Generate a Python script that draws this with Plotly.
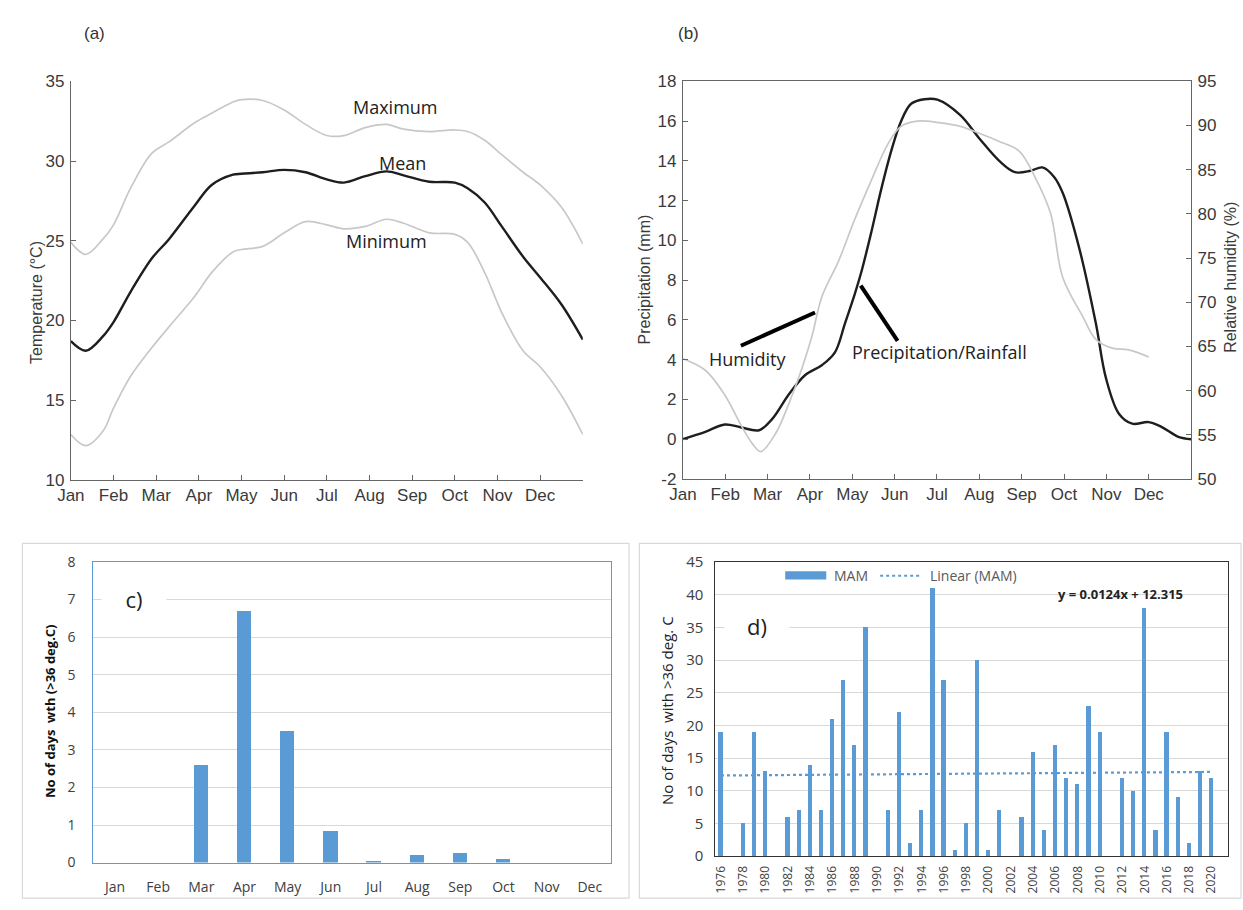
import plotly.graph_objects as go

W, H = 1243, 910

MONTHS = ["Jan", "Feb", "Mar", "Apr", "May", "Jun", "Jul", "Aug", "Sep", "Oct", "Nov", "Dec"]

# ---- panel (a): temperature (x = month position, 0 = Jan)
TEMP_MONTH_POS = [0, 0.35, 0.75, 1.0, 1.4, 1.9, 2.3, 2.9, 3.3, 3.8, 4.0, 4.5, 5.0, 5.5, 6.0, 6.4,
                  6.9, 7.4, 7.8, 8.4, 9.0, 9.3, 9.7, 10.1, 10.6, 11.0, 11.5, 12.0]
TEMP_MEAN = [18.7, 18.1, 19.0, 19.9, 21.8, 23.9, 25.1, 27.2, 28.5, 29.15, 29.2, 29.3, 29.45, 29.3,
             28.85, 28.65, 29.05, 29.35, 29.1, 28.7, 28.65, 28.3, 27.4, 25.9, 24.0, 22.7, 21.0, 18.8]
TEMP_MAX = [24.9, 24.15, 25.1, 26.0, 28.3, 30.5, 31.2, 32.4, 33.0, 33.7, 33.85, 33.8, 33.2, 32.3,
            31.6, 31.6, 32.1, 32.3, 32.0, 31.85, 31.95, 31.85, 31.3, 30.4, 29.3, 28.5, 27.1, 24.8]
TEMP_MIN = [12.85, 12.15, 13.05, 14.5, 16.5, 18.3, 19.6, 21.5, 23.0, 24.3, 24.45, 24.65, 25.5, 26.2,
            26.0, 25.75, 25.9, 26.35, 26.1, 25.5, 25.4, 24.9, 23.0, 20.5, 18.1, 17.1, 15.3, 12.85]

# ---- panel (b): precipitation and humidity
PRECIP_MONTH_POS = [0, 0.53, 0.99, 1.36, 1.80, 2.11, 2.5, 2.89, 3.28, 3.59, 3.83, 4.06, 4.22, 4.45,
                    4.68, 4.92, 5.15, 5.39, 5.70, 6.01, 6.55, 7.01, 7.47, 7.84, 8.21, 8.49, 8.77,
                    8.97, 9.36, 9.75, 9.99, 10.3, 10.61, 11.0, 11.31, 11.7, 12.0]
PRECIP_MM = [0.0, 0.37, 0.74, 0.6, 0.45, 1.02, 2.25, 3.23, 3.72, 4.37, 5.84, 7.31, 8.46, 10.42,
             12.54, 14.5, 15.98, 16.87, 17.1, 17.08, 16.3, 15.1, 14.0, 13.43, 13.5, 13.67, 13.18,
             12.38, 9.6, 5.84, 3.07, 1.27, 0.78, 0.86, 0.61, 0.12, 0.0]
HUM_MONTH_POS = [0, 0.53, 0.99, 1.36, 1.64, 1.84, 2.19, 2.5, 2.81, 3.05, 3.28, 3.67, 4.06, 4.45,
                 4.84, 5.15, 5.54, 6.09, 6.55, 7.01, 7.47, 7.94, 8.31, 8.68, 8.97, 9.44, 9.75,
                 10.14, 10.53, 11.0]
HUMIDITY = [63.6, 62.3, 59.5, 56.2, 54.0, 53.1, 55.15, 58.5, 62.5, 66.2, 70.6, 74.6, 79.4, 83.8,
            87.9, 89.9, 90.5, 90.3, 89.9, 89.1, 88.2, 87.1, 84.2, 80.1, 72.8, 68.4, 65.8,
            64.8, 64.6, 63.8]
PRECIP_TICKS = [-2, 0, 2, 4, 6, 8, 10, 12, 14, 16, 18]

# ---- panel (c): monthly number of days > 36 C
HOT_DAYS_MONTHLY = [0, 0, 2.6, 6.7, 3.5, 0.85, 0.05, 0.2, 0.25, 0.1, 0, 0]

# ---- panel (d): MAM hot days per year
YEARS = list(range(1976, 2021))
MAM_DAYS = [19, 0, 5, 19, 13, 0, 6, 7, 14, 7, 21, 27, 17, 35, 0, 7, 22, 2, 7, 41, 27, 1, 5, 30,
            1, 7, 0, 6, 16, 4, 17, 12, 11, 23, 19, 0, 12, 10, 38, 4, 19, 9, 2, 13, 12]
TREND_SLOPE = 0.0124
TREND_INTERCEPT = 12.315

trend_x = [YEARS[0], YEARS[-1]]
trend_y = [TREND_SLOPE * 1 + TREND_INTERCEPT, TREND_SLOPE * len(YEARS) + TREND_INTERCEPT]


def px(x):
    return x / W


def py(y):
    return 1 - y / H


BLUE = "#5B9BD5"
GREY_LINE = "#c8c8c8"
DARK = "#1e1e1e"
SANS = "Liberation Sans, Arial, sans-serif"
HUM_FONT = "Open Sans, sans-serif"

fig = go.Figure()

# panel a
fig.add_trace(go.Scatter(x=TEMP_MONTH_POS, y=TEMP_MAX, mode="lines", line=dict(color=GREY_LINE, width=1.7, shape="spline"),
                         xaxis="x", yaxis="y", showlegend=False, name="Maximum"))
fig.add_trace(go.Scatter(x=TEMP_MONTH_POS, y=TEMP_MIN, mode="lines", line=dict(color=GREY_LINE, width=1.7, shape="spline"),
                         xaxis="x", yaxis="y", showlegend=False, name="Minimum"))
fig.add_trace(go.Scatter(x=TEMP_MONTH_POS, y=TEMP_MEAN, mode="lines", line=dict(color=DARK, width=2.4, shape="spline"),
                         xaxis="x", yaxis="y", showlegend=False, name="Mean"))

# panel b
fig.add_trace(go.Scatter(x=HUM_MONTH_POS, y=HUMIDITY, mode="lines", line=dict(color=GREY_LINE, width=1.7, shape="spline"),
                         xaxis="x2", yaxis="y3", showlegend=False, name="Humidity"))
fig.add_trace(go.Scatter(x=PRECIP_MONTH_POS, y=PRECIP_MM, mode="lines", line=dict(color=DARK, width=2.4, shape="spline"),
                         xaxis="x2", yaxis="y2", showlegend=False, name="Precipitation"))

# panel c
fig.add_trace(go.Bar(x=MONTHS, y=HOT_DAYS_MONTHLY, marker=dict(color=BLUE, line=dict(width=0)), width=0.33,
                     xaxis="x3", yaxis="y4", showlegend=False, name="days"))

# panel d
fig.add_trace(go.Bar(x=YEARS, y=MAM_DAYS, marker=dict(color=BLUE, line=dict(width=0)), width=0.38,
                     xaxis="x4", yaxis="y5", showlegend=False, name="MAM"))
fig.add_trace(go.Scatter(x=trend_x, y=trend_y, mode="lines", line=dict(color=BLUE, width=2.2, dash="dot"),
                         xaxis="x4", yaxis="y5", showlegend=False, name="Linear (MAM)"))

tick_a = dict(family=SANS, size=17, color="#3a3a3a")
axis_line = "#666"

fig.update_layout(
    width=W, height=H, autosize=False,
    margin=dict(l=0, r=0, t=0, b=0),
    paper_bgcolor="white", plot_bgcolor="rgba(0,0,0,0)",
    showlegend=False,
    bargap=0,
    xaxis=dict(domain=[px(57.5), px(575.3)], anchor="y", range=[0, 12], tickvals=list(range(12)), ticktext=MONTHS,
               ticks="inside", ticklen=5, tickcolor=axis_line, showline=True, linecolor=axis_line, linewidth=1.2,
               showgrid=False, zeroline=False, tickfont=tick_a, ticklabelstandoff=0),
    yaxis=dict(domain=[py(480), py(72)], anchor="x", range=[10, 35], dtick=5,
               ticks="inside", ticklen=5, tickcolor=axis_line, showline=True, linecolor=axis_line, linewidth=1.2,
               showgrid=False, zeroline=False, tickfont=tick_a, ticklabelstandoff=2),
    xaxis2=dict(domain=[px(676.5), px(1190.5)], anchor="y2", range=[0, 12], tickvals=list(range(12)), ticktext=MONTHS,
                ticks="inside", ticklen=5, tickcolor=axis_line, showline=True, mirror=True, linecolor=axis_line,
                linewidth=1.2, showgrid=False, zeroline=False, tickfont=tick_a, ticklabelstandoff=0),
    yaxis2=dict(domain=[py(479), py(72)], anchor="x2", range=[-2, 18],
                tickvals=PRECIP_TICKS, ticktext=[str(v) for v in PRECIP_TICKS],
                ticks="inside", ticklen=5, tickcolor=axis_line, showline=True, linecolor=axis_line, linewidth=1.2,
                showgrid=False, zeroline=False, tickfont=tick_a, ticklabelstandoff=2),
    yaxis3=dict(overlaying="y2", anchor="x2", side="right", range=[50, 95], dtick=5,
                ticks="inside", ticklen=5, tickcolor=axis_line, showline=True, linecolor=axis_line, linewidth=1.2,
                showgrid=False, zeroline=False, tickfont=tick_a, ticklabelstandoff=2),
    xaxis3=dict(domain=[px(80.3), px(604.2)], anchor="y4", type="category", showline=True, mirror=True,
                linecolor=BLUE, linewidth=1.2, showgrid=False, ticks="", ticklabelstandoff=12,
                tickfont=dict(family=HUM_FONT, size=14, color="#404040")),
    yaxis4=dict(domain=[py(871.7), py(564)], anchor="x3", range=[0, 8], dtick=1, showline=True, mirror=True,
                linecolor=BLUE, linewidth=1.2, showgrid=True, gridcolor="#d9d9d9", gridwidth=1.2, zeroline=False,
                ticks="", ticklabelstandoff=14, tickfont=dict(family=HUM_FONT, size=14, color="#404040")),
    xaxis4=dict(domain=[px(709.4), px(1228.1)], anchor="y5", range=[1975.5, 2021.5],
                tickvals=YEARS[::2], ticktext=[str(y) for y in YEARS[::2]], tickangle=-90,
                showline=True, mirror=True, linecolor="#333", linewidth=1.2, showgrid=False, zeroline=False,
                ticks="", ticklabelstandoff=4, tickfont=dict(family=HUM_FONT, size=12, color="#404040")),
    yaxis5=dict(domain=[py(865), py(564)], anchor="x4", range=[0, 45], dtick=5, showline=True, mirror=True,
                linecolor="#333", linewidth=1.2, showgrid=True, gridcolor="#d9d9d9", gridwidth=1.2, zeroline=False,
                ticks="", ticklabelstandoff=8, tickfont=dict(family=HUM_FONT, size=15, color="#404040")),
)

shapes = [
    # frames around the lower panels
    dict(type="rect", xref="paper", yref="paper", x0=px(8.5), x1=px(622), y0=py(908), y1=py(545),
         line=dict(color="#d9d9d9", width=1.2), fillcolor="rgba(0,0,0,0)", layer="below"),
    dict(type="rect", xref="paper", yref="paper", x0=px(632.5), x1=px(1241), y0=py(908), y1=py(545),
         line=dict(color="#d9d9d9", width=1.2), fillcolor="rgba(0,0,0,0)", layer="below"),
    # pointer lines in panel b
    dict(type="line", xref="x2", yref="y2", x0=1.37, y0=4.70, x1=3.12, y1=6.37, line=dict(color="black", width=4)),
    dict(type="line", xref="x2", yref="y2", x0=4.20, y0=7.72, x1=5.07, y1=4.95, line=dict(color="black", width=4)),
    # legend of panel d
    dict(type="rect", xref="paper", yref="paper", x0=px(780), x1=px(821.5), y0=py(582), y1=py(573.5),
         fillcolor=BLUE, line=dict(width=0)),
    dict(type="line", xref="paper", yref="paper", x0=px(876), x1=px(918), y0=py(578), y1=py(578),
         line=dict(color=BLUE, width=2, dash="dot")),
]
fig.update_layout(shapes=shapes)


def note(text, x, y, xref="paper", yref="paper", **kw):
    d = dict(text=text, x=x, y=y, xref=xref, yref=yref, showarrow=False, xanchor="center", yanchor="middle")
    d.update(kw)
    return d


ann = [
    note("(a)", px(81), py(23), font=dict(family=SANS, size=17, color="#333")),
    note("(b)", px(682), py(23), font=dict(family=SANS, size=17, color="#333")),
    note("Temperature (°C)", px(22), py(298), textangle=-90, font=dict(family=SANS, size=16, color="#3a3a3a")),
    note("Precipitation (mm)", px(638), py(275), textangle=-90, font=dict(family=SANS, size=16, color="#3a3a3a")),
    note("Relative humidity (%)", px(1231), py(273), textangle=-90, font=dict(family=SANS, size=16, color="#3a3a3a")),
    note("Maximum", 7.61, 33.4, "x", "y", font=dict(family=HUM_FONT, size=18, color="#222")),
    note("Mean", 7.77, 29.85, "x", "y", font=dict(family=HUM_FONT, size=18, color="#222")),
    note("Minimum", 7.40, 25.0, "x", "y", font=dict(family=HUM_FONT, size=18, color="#222")),
    note("Humidity", 1.53, 4.04, "x2", "y2", font=dict(family=HUM_FONT, size=18, color="#222")),
    note("Precipitation/Rainfall", 6.06, 4.37, "x2", "y2", font=dict(family=HUM_FONT, size=18, color="#222")),
    note("c)", px(121), py(602), bgcolor="white", borderpad=2, width=60,
         font=dict(family=HUM_FONT, size=22, color="#222")),
    note("<b>No of days  wth (>36 deg.C)</b>", px(37), py(717), textangle=-90,
         font=dict(family=HUM_FONT, size=13, color="#111")),
    note("d)", px(751), py(630), bgcolor="white", borderpad=2, width=60,
         font=dict(family=HUM_FONT, size=22, color="#222")),
    note("No of days  with >36 deg. C", px(661), py(716), textangle=-90,
         font=dict(family=HUM_FONT, size=15, color="#222")),
    note("<b>y = 0.0124x + 12.315</b>", px(1119), py(597), font=dict(family=HUM_FONT, size=13, color="#222")),
    note("MAM", px(827), py(578), xanchor="left", font=dict(family=HUM_FONT, size=14, color="#595959")),
    note("Linear (MAM)", px(924), py(578), xanchor="left", font=dict(family=HUM_FONT, size=14, color="#595959")),
]
fig.update_layout(annotations=ann)

# remove the browser's default body margin so the figure sits at the page origin
fig.write_html("out.html",
               config={"displayModeBar": False},
               post_script="document.body.style.margin='0';document.body.style.padding='0';"
                           "document.body.style.overflow='hidden';")
